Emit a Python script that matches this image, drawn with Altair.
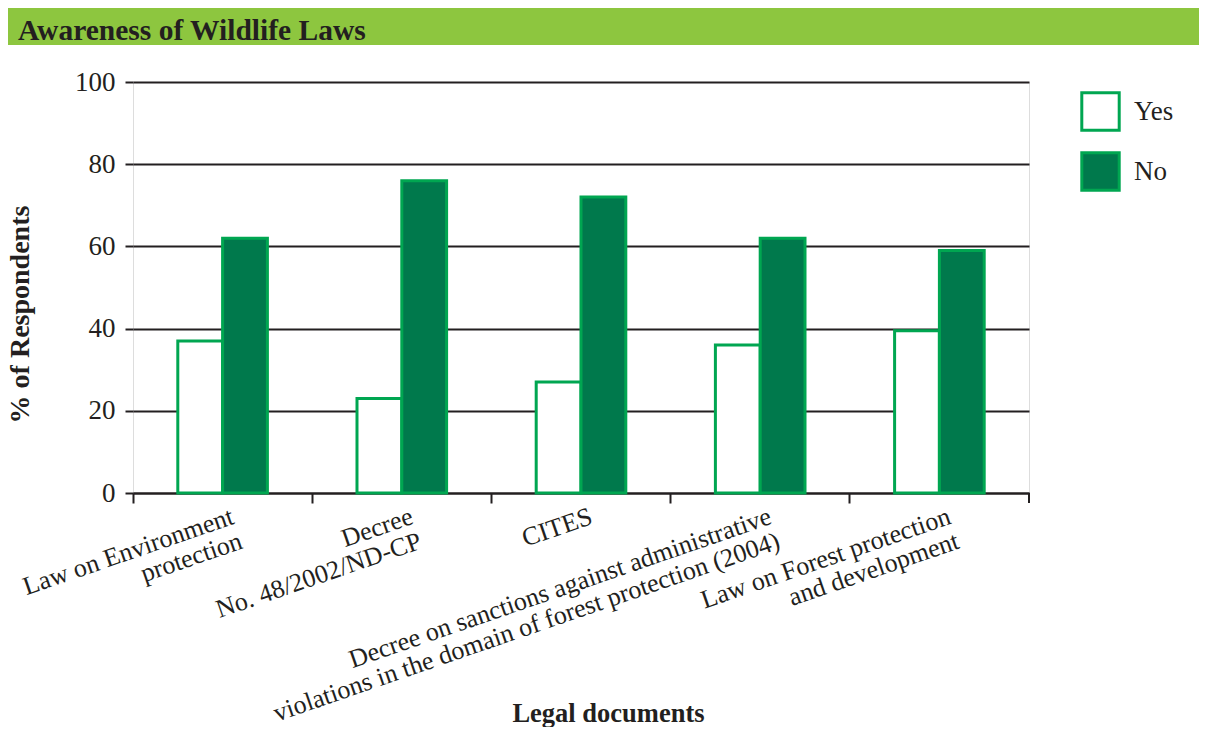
import altair as alt
import pandas as pd

categories = [
    "Law on Environment|protection",
    "Decree|No. 48/2002/ND-CP",
    "CITES",
    "Decree on sanctions against administrative|violations in the domain of forest protection (2004)",
    "Law on Forest protection|and development",
]
yes_values = [37, 23, 27, 36, 39.5]
no_values = [62, 76, 72, 62, 59]
series = ["Yes", "No"]

rows = []
for c, y, n in zip(categories, yes_values, no_values):
    rows.append({"doc": c, "answer": "Yes", "pct": y})
    rows.append({"doc": c, "answer": "No", "pct": n})
df = pd.DataFrame(rows)

FONT = "Liberation Serif"
TXT = "#231F20"
BRIGHT = "#00A651"
DARK = "#00794C"
TOTAL_W, TOTAL_H = 1191, 719
W, H = 896, 411
PL, PT = 125, 74

bars = alt.Chart(df).mark_bar(stroke=BRIGHT, strokeWidth=3).encode(
    x=alt.X("doc:N", sort=categories, title="Legal documents",
            scale=alt.Scale(paddingInner=0, paddingOuter=0),
            axis=alt.Axis(labelExpr="split(datum.label, '|')", labelAngle=-19,
                          labelAlign="right", labelBaseline="top", labelLimit=0,
                          labelFont=FONT, labelFontSize=26, labelColor=TXT,
                          labelLineHeight=26, labelPadding=0, labelOffset=6,
                          bandPosition=0, tickSize=10, tickWidth=2, tickColor=TXT,
                          domainColor=TXT, domainWidth=2, grid=False,
                          titleFont=FONT, titleFontSize=26.5, titleFontWeight="bold",
                          titleColor=TXT, titleX=475, titleY=228,
                          titleBaseline="alphabetic", titleAlign="center")),
    xOffset=alt.XOffset("answer:N", sort=series,
                        scale=alt.Scale(paddingInner=0, paddingOuter=1)),
    y=alt.Y("pct:Q", title="% of Respondents",
            scale=alt.Scale(domain=[0, 100]),
            axis=alt.Axis(values=[0, 20, 40, 60, 80, 100], domain=False,
                          tickSize=8, tickWidth=2, tickColor=TXT,
                          gridColor=TXT, gridWidth=2,
                          labelFont=FONT, labelFontSize=27, labelColor=TXT,
                          labelPadding=10,
                          titleFont=FONT, titleFontSize=28, titleFontWeight="bold",
                          titleColor=TXT, titleX=-105, titleY=232,
                          titleBaseline="alphabetic", titleAngle=-90)),
    fill=alt.Fill("answer:N", sort=series,
                  scale=alt.Scale(domain=series, range=["#FFFFFF", DARK]),
                  legend=alt.Legend(title=None, orient="none", legendX=947, legendY=9,
                                    symbolType="square", symbolSize=1400,
                                    symbolStrokeWidth=3, symbolStrokeColor=BRIGHT,
                                    labelFont=FONT, labelFontSize=27, labelColor=TXT,
                                    labelOffset=13, rowPadding=9, padding=0)),
)

one = alt.Data(values=[{}])

title_bar = alt.Chart(one).mark_rect(color="#8DC63F").encode(
    x=alt.value(-PL), x2=alt.value(TOTAL_W - PL),
    y=alt.value(-PT), y2=alt.value(37 - PT),
)

title_text = alt.Chart(one).mark_text(
    text="Awareness of Wildlife Laws", font=FONT, fontSize=29.5, fontWeight="bold",
    color=TXT, align="left", baseline="alphabetic",
).encode(x=alt.value(10 - PL), y=alt.value(32 - PT))

end_tick = alt.Chart(one).mark_rule(color=TXT, strokeWidth=2).encode(
    x=alt.value(W), y=alt.value(H), y2=alt.value(H + 10)
)

chart = alt.layer(title_bar, title_text, bars, end_tick).properties(
    width=W, height=H,
    autosize=alt.AutoSizeParams(type="none"),
    padding={"left": PL, "top": PT, "right": TOTAL_W - PL - W, "bottom": TOTAL_H - PT - H},
).configure_view(fill="#DFECC8", stroke=None).configure(background="#FFFFFF")

chart.save("out.html", embed_options={"renderer": "svg", "actions": False})
